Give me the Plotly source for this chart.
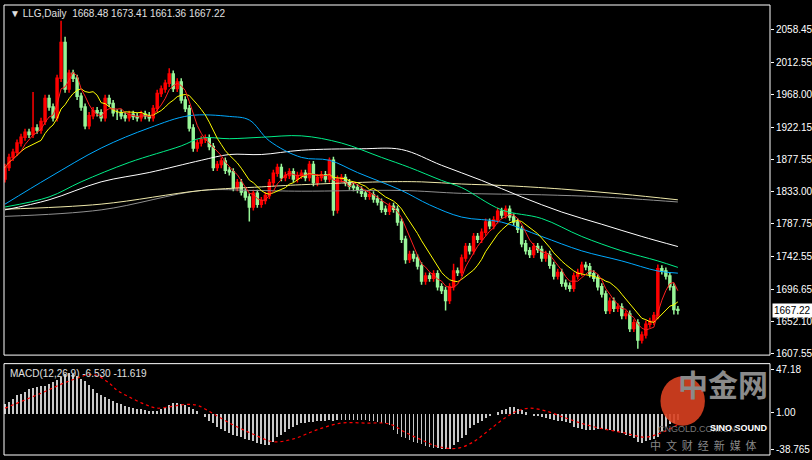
import plotly.graph_objects as go
import pandas as pd

closes = [1866,1880,1887,1900,1908,1915,1912,1921,1918,1930,
          1962,1950,1935,1990,2040,1975,1997,1990,1965,1950,
          1924,1938,1945,1942,1935,1962,1955,1942,1942,1938,
          1935,1940,1937,1935,1940,1938,1935,1948,1969,1975,
          1983,1996,1976,1985,1960,1948,1921,1893,1900,1905,
          1907,1895,1866,1870,1875,1862,1860,1838,1845,1832,
          1825,1811,1830,1815,1820,1827,1845,1858,1866,1852,
          1855,1860,1850,1855,1858,1852,1870,1845,1852,1856,
          1850,1876,1807,1850,1852,1845,1840,1838,1835,1830,
          1826,1828,1822,1818,1808,1805,1812,1808,1790,1766,
          1738,1745,1740,1729,1708,1715,1712,1718,1700,1695,
          1681,1700,1722,1720,1740,1756,1750,1770,1766,1776,
          1790,1785,1793,1805,1800,1808,1797,1790,1780,1760,
          1750,1745,1756,1752,1740,1745,1730,1715,1720,1705,
          1701,1698,1715,1720,1730,1728,1718,1712,1700,1690,
          1667,1680,1670,1672,1660,1662,1642,1650,1626,1633,
          1648,1652,1660,1725,1722,1715,1700,1668.48,1667.22]
first_open = 1850
wick_base = 5
wick_up_exc = {7: 50, 14: 30, 15: 8, 41: 8, 81: 4, 112: 10, 163: 6}
wick_lo_exc = {28: 10, 61: 20, 82: 8, 100: 6, 110: 14, 158: 12, 167: 7, 168: 6}

macd_hist = [11,13,16,20,22,24,27,28,29,30,
             30,32,34,37,40,43,44,43,41,38,
             35,31,27,23,20,18,16,14,12,11,
             9,8,7,6,5,4,3,3,3,5,
             8,10,12,12,11,10,8,6,3,0,
             -3,-7,-10,-14,-16,-18,-20,-22,-23,-25,
             -27,-28,-29,-31,-32,-33,-33,-30,-25,-22,
             -19,-16,-14,-12,-10,-9,-8,-8,-7,-7,
             -7,-6,-7,-6,-6,-6,-6,-6,-6,-6,
             -6,-7,-7,-8,-9,-10,-12,-17,-21,-24,
             -26,-28,-30,-31,-32,-34,-35,-36,-36,-37,
             -37,-37,-33,-30,-26,-22,-15,-12,-10,-7,
             -4,-2,0,2,4,6,8,8,6,4,
             2,0,-1,-2.5,-3,-4,-5,-6,-7,-7,
             -8,-10,-14,-15,-16,-17,-17,-17,-16,-16,
             -17,-17,-18,-19,-20,-22,-23,-26,-30,-31,
             -29,-28,-27,-24,-18,-14,-11,-9,-6.53]
sig_idx = [0,9,16,22,26,28,31,35,38,42,45,48,52,57,62,67,72,78,84,90,96,100,104,108,113,117,121,125,128,131,135,139,143,148,154,160,164,168]
sig_val = [6,22,35,42,33,25,18,10,6,8,10,9,0,-12,-22,-30,-27,-17,-10,-10,-11,-20,-28,-35,-37,-30,-17,-4,3,6,3,-3,-9,-15,-20,-25,-20,-11.62]

ma_blue_i = [0,11,24,36,46,56,61,66,74,81,88,99,106,114,124,134,144,154,163,168]
ma_blue_v = [1815,1852,1893,1921,1938,1937,1932,1903,1880,1876,1859,1834,1814,1797,1790,1770,1750,1736,1722,1719]
ma_green_i = [0,11,19,31,44,49,56,64,74,84,94,101,109,114,124,134,144,154,163,168]
ma_green_v = [1811,1825,1846,1873,1896,1907,1906,1908,1910,1900,1880,1866,1848,1838,1807,1795,1770,1750,1736,1727]
ma_white_i = [0,11,24,36,49,56,64,74,89,99,109,119,129,139,149,159,168]
ma_white_v = [1807,1821,1846,1859,1876,1884,1884,1890,1892,1891,1869,1848,1825,1804,1787,1770,1756]
ma_khaki_i = [0,24,49,64,74,94,104,114,124,139,154,168]
ma_khaki_v = [1808,1815,1834,1839,1842,1846,1846,1843,1841,1836,1829,1821]
ma_gray_i = [0,24,49,62,74,99,114,134,149,168]
ma_gray_v = [1798,1807,1834,1834,1833,1834,1830,1828,1825,1818]

price_ticks = [2058.45,2012.55,1968.00,1922.15,1877.55,1833.00,1787.75,1742.55,1696.65,1652.10,1607.55]

n = len(closes)
opens = [first_open] + closes[:-1]
opens[-1] = 1668.48
highs = [max(o, c) + wick_up_exc.get(i, wick_base) for i, (o, c) in enumerate(zip(opens, closes))]
lows = [min(o, c) - wick_lo_exc.get(i, wick_base) for i, (o, c) in enumerate(zip(opens, closes))]
highs[-1] = 1673.41; lows[-1] = 1661.36
x = list(range(n))
s = pd.Series(closes)
ma5 = s.rolling(5, min_periods=1).mean()
ma10 = s.rolling(10, min_periods=1).mean()

fig = go.Figure()
fig.add_trace(go.Candlestick(x=x, open=opens, high=highs, low=lows, close=closes,
    increasing=dict(line=dict(color="#ff0000", width=1.5), fillcolor="#ff0000"),
    decreasing=dict(line=dict(color="#98f598", width=1.5), fillcolor="#98f598"),
    whiskerwidth=0, xaxis="x", yaxis="y", showlegend=False, hoverinfo="skip"))
for xi, yv, col in [(ma_gray_i, ma_gray_v, "#909090"), (ma_khaki_i, ma_khaki_v, "#eee8aa"),
                    (ma_white_i, ma_white_v, "#ffffff"), (ma_green_i, ma_green_v, "#00ee88"),
                    (ma_blue_i, ma_blue_v, "#00aaff")]:
    fig.add_trace(go.Scatter(x=xi, y=yv, mode="lines", line=dict(color=col, width=1, shape="spline"),
                             showlegend=False, xaxis="x", yaxis="y"))
fig.add_trace(go.Scatter(x=x, y=ma10, mode="lines", line=dict(color="#ffff00", width=1), showlegend=False))
fig.add_trace(go.Scatter(x=x, y=ma5, mode="lines", line=dict(color="#ff2020", width=1), showlegend=False))

fig.add_trace(go.Bar(x=x, y=macd_hist, marker=dict(color="#c8c8c8", line=dict(width=0)), width=0.22,
                     xaxis="x2", yaxis="y2", showlegend=False))
fig.add_trace(go.Scatter(x=sig_idx, y=sig_val, mode="lines", line=dict(color="#ff0000", width=1.2, dash="dot", shape="spline"),
                         xaxis="x2", yaxis="y2", showlegend=False))

xr = [-0.25, 191]
tf = dict(size=10, color="#fff", family="Liberation Sans")
fig.update_layout(
    width=812, height=460, margin=dict(l=4, r=42, t=5, b=5, autoexpand=False),
    paper_bgcolor="#000000", plot_bgcolor="#000000",
    font=dict(family="Liberation Sans", size=10, color="#ffffff"),
    xaxis=dict(range=xr, showgrid=False, showticklabels=False, zeroline=False, rangeslider=dict(visible=False), domain=[0, 1]),
    xaxis2=dict(range=xr, showgrid=False, showticklabels=False, zeroline=False, anchor="y2", domain=[0, 1]),
    yaxis=dict(domain=[0.222, 1], range=[1605, 2092], side="right", tickvals=price_ticks, automargin=False,
               ticktext=[f"{v:.2f}" for v in price_ticks], showgrid=False, zeroline=False,
               ticks="outside", ticklen=3, tickcolor="#fff", tickfont=tf),
    yaxis2=dict(domain=[0, 0.203], range=[-44.2, 53.7], side="right", anchor="x2", tickvals=[47.18, 1.0, -38.765],
                ticktext=["47.18", "1.00", "-38.765"], showgrid=False, zeroline=False, automargin=False,
                ticks="outside", ticklen=3, tickcolor="#fff", tickfont=tf),
    bargap=0,
)
shapes = [
    dict(type="rect", xref="paper", yref="paper", x0=0, x1=1, y0=0.222, y1=1, line=dict(color="#fff", width=1)),
    dict(type="rect", xref="paper", yref="paper", x0=0, x1=1, y0=0, y1=0.203, line=dict(color="#fff", width=1)),
    dict(type="circle", xref="paper", yref="paper", x0=0.857, x1=0.915, y0=0.065, y1=0.175, fillcolor="#d94020", line=dict(width=0), opacity=0.9),
]
fig.update_layout(shapes=shapes)
ann = [
    dict(text="▼ LLG,Daily  1668.48 1673.41 1661.36 1667.22", x=0.005, y=0.998, xref="paper", yref="paper",
         xanchor="left", yanchor="top", showarrow=False, font=dict(size=10, color="#e0e0e0")),
    dict(text="MACD(12,26,9) -6.530 -11.619", x=0.005, y=0.198, xref="paper", yref="paper",
         xanchor="left", yanchor="top", showarrow=False, font=dict(size=10, color="#e0e0e0")),
    dict(text="1667.22", x=1.003, y=1667.22, xref="paper", yref="y", xanchor="left", yanchor="middle", showarrow=False,
         bgcolor="#ffffff", font=dict(size=10, color="#000"), borderpad=1),
    dict(text="<b>中金网</b>", x=1.0, y=0.16, xref="paper", yref="paper", xanchor="right", yanchor="middle",
         showarrow=False, font=dict(size=30, color="#8a8a8a", family="Noto Sans CJK SC")),
    dict(text="CNGOLD.COM.CN", x=0.905, y=0.058, xref="paper", yref="paper", xanchor="center", yanchor="middle",
         showarrow=False, font=dict(size=9, color="#777")),
    dict(text="<b>SINO SOUND</b>", x=1.0, y=0.06, xref="paper", yref="paper", xanchor="right", yanchor="middle",
         showarrow=False, font=dict(size=9, color="#fff")),
    dict(text="中  文  财  经  新  媒  体", x=0.985, y=0.0, xref="paper", yref="paper", xanchor="right", yanchor="bottom",
         showarrow=False, font=dict(size=11, color="#888", family="Noto Sans CJK SC")),
]
fig.update_layout(annotations=ann)
fig.write_html("out.html", config={"displayModeBar": False},
               post_script="document.body.style.margin='0';document.body.style.overflow='hidden';")
